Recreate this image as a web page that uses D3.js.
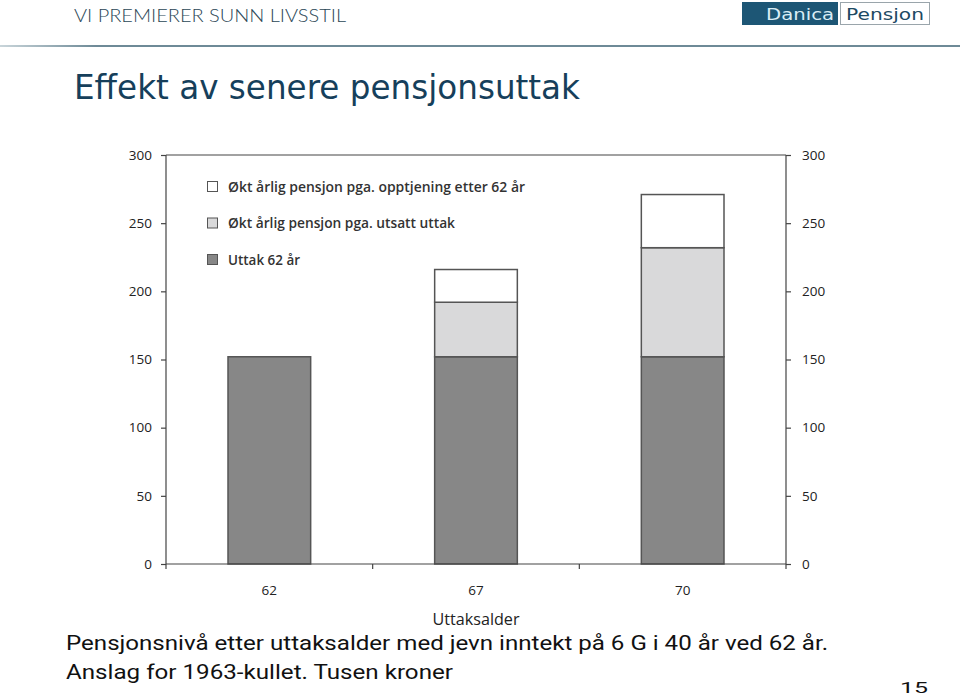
<!DOCTYPE html>
<html><head><meta charset="utf-8">
<script src="https://cdn.jsdelivr.net/npm/d3@7/dist/d3.min.js"></script>
<style>body{margin:0;background:#fff}svg{display:block}</style>
</head><body>
<script>
const categories = ["62", "67", "70"];
const seriesNames = ["Uttak 62 år", "Økt årlig pensjon pga. utsatt uttak", "Økt årlig pensjon pga. opptjening etter 62 år"];
const uttak62 = [152, 152, 152];
const utsattUttak = [0, 40, 80];
const opptjening = [0, 24, 39];
const yTicks = [0, 50, 100, 150, 200, 250, 300];
const legendOrder = [2, 1, 0];
const colors = ["#878787", "#d9d9da", "#ffffff"];

(function () {
const W = 960, H = 695;
const svg = d3.select("body").append("svg").attr("width", W).attr("height", H);

// header
svg.append("text").attr("x", 74).attr("y", 22).text("VI PREMIERER SUNN LIVSSTIL")
  .attr("font-family", "Lato, 'Open Sans', sans-serif").attr("font-size", 17).attr("font-weight", 300).attr("fill", "#2b4756")
  .attr("textLength", 272).attr("lengthAdjust", "spacingAndGlyphs");
const grad = svg.append("defs").append("linearGradient").attr("id", "hl");
grad.append("stop").attr("offset", "0%").attr("stop-color", "#c9d5da");
grad.append("stop").attr("offset", "10%").attr("stop-color", "#6e8a97");
grad.append("stop").attr("offset", "100%").attr("stop-color", "#6e8a97");
svg.append("rect").attr("x", 0).attr("y", 45).attr("width", W).attr("height", 2).attr("fill", "url(#hl)");

// logo
svg.append("rect").attr("x", 742).attr("y", 2).attr("width", 96).attr("height", 23).attr("fill", "#1d5675");
svg.append("text").attr("x", 800).attr("y", 20).attr("text-anchor", "middle").text("Danica")
  .attr("font-family", "'DejaVu Sans', sans-serif").attr("font-size", 15).attr("fill", "#d9edf6")
  .attr("textLength", 68).attr("lengthAdjust", "spacingAndGlyphs");
svg.append("rect").attr("x", 840.5).attr("y", 2.5).attr("width", 89).attr("height", 22).attr("fill", "#fff").attr("stroke", "#9aa5ab");
svg.append("text").attr("x", 885).attr("y", 20).attr("text-anchor", "middle").text("Pensjon")
  .attr("font-family", "'DejaVu Sans', sans-serif").attr("font-size", 15).attr("fill", "#1d4a63")
  .attr("textLength", 78).attr("lengthAdjust", "spacingAndGlyphs");

// title
svg.append("text").attr("x", 74).attr("y", 99).text("Effekt av senere pensjonsuttak")
  .attr("font-family", "'DejaVu Sans', sans-serif").attr("font-size", 34).attr("fill", "#163f5b")
  .attr("textLength", 506).attr("lengthAdjust", "spacingAndGlyphs");

// chart
const pL = 166, pR = 786, pT = 155, pB = 564;
const x = d3.scaleBand().domain(categories).range([pL, pR]).padding(0);
const y = d3.scaleLinear().domain([0, 300]).range([pB, pT]);
const data = categories.map((c, i) => ({cat: c, s0: uttak62[i], s1: utsattUttak[i], s2: opptjening[i]}));
const series = d3.stack().keys(["s0", "s1", "s2"])(data);

const fontChart = "'Open Sans', 'Noto Sans', sans-serif";
const g = svg.append("g");
const bw = x.bandwidth() * 0.4;
series.forEach((s, k) => {
  g.selectAll(null).data(s.filter(d => d[1] - d[0] > 0)).enter().append("rect")
    .attr("x", d => x(d.data.cat) + (x.bandwidth() - bw) / 2)
    .attr("y", d => y(d[1]))
    .attr("width", bw)
    .attr("height", d => y(d[0]) - y(d[1]))
    .attr("fill", colors[k]).attr("stroke", "#555").attr("stroke-width", 1.5);
});

g.append("line").attr("x1", pL).attr("x2", pR).attr("y1", pT).attr("y2", pT).attr("stroke", "#444").attr("stroke-width", 1.2);

const yl = d3.axisLeft(y).tickValues(yTicks).tickSize(5).tickPadding(9);
const yr = d3.axisRight(y).tickValues(yTicks).tickSize(5).tickPadding(11);
const xb = d3.axisBottom(x).tickSize(0).tickPadding(21);
function styleAxis(sel) {
  sel.select(".domain").attr("stroke", "#444").attr("stroke-width", 1.2);
  sel.selectAll(".tick line").attr("stroke", "#444").attr("stroke-width", 1.2);
  sel.selectAll("text").attr("font-family", fontChart).attr("font-size", 13.5).attr("font-weight", 500).attr("fill", "#222");
}
g.append("g").attr("transform", `translate(${pL},0)`).call(yl).call(styleAxis).call(s => s.select(".domain").attr("d", `M0,${pB}V${pT}`));
g.append("g").attr("transform", `translate(${pR},0)`).call(yr).call(styleAxis).call(s => s.select(".domain").attr("d", `M0,${pB}V${pT}`));
g.append("g").attr("transform", `translate(0,${pB})`).call(xb).call(styleAxis)
  .call(s => s.select(".domain").attr("d", `M${pL},0H${pR}`));
g.selectAll(null).data(x.domain().concat(["end"])).enter().append("line")
  .attr("x1", d => d === "end" ? pR : x(d)).attr("x2", d => d === "end" ? pR : x(d))
  .attr("y1", pB).attr("y2", pB + 5).attr("stroke", "#444").attr("stroke-width", 1.2);

svg.append("text").attr("x", (pL + pR) / 2).attr("y", 625).attr("text-anchor", "middle").text("Uttaksalder")
  .attr("font-family", fontChart).attr("font-size", 16.5).attr("font-weight", 500).attr("fill", "#222")
  .attr("textLength", 87).attr("lengthAdjust", "spacingAndGlyphs");

// legend
const legW = [297, 227, 72];
const leg = svg.append("g");
legendOrder.forEach((k, i) => {
  const yy = 181 + i * 36.5;
  leg.append("rect").attr("x", 207.5).attr("y", yy + 0.5).attr("width", 10).attr("height", 10)
    .attr("fill", colors[k]).attr("stroke", "#555").attr("stroke-width", 1);
  leg.append("text").attr("x", 228).attr("y", yy + 10.5).text(seriesNames[k])
    .attr("font-family", fontChart).attr("font-size", 14).attr("font-weight", 600).attr("fill", "#333")
    .attr("textLength", legW[i]).attr("lengthAdjust", "spacingAndGlyphs");
});

// caption
const capFont = "'Roboto', 'Liberation Sans', sans-serif";
svg.append("text").attr("x", 66).attr("y", 650).text("Pensjonsnivå etter uttaksalder med jevn inntekt på 6 G i 40 år ved 62 år.")
  .attr("font-family", capFont).attr("font-size", 20).attr("fill", "#111")
  .attr("textLength", 762).attr("lengthAdjust", "spacingAndGlyphs");
svg.append("text").attr("x", 66).attr("y", 679).text("Anslag for 1963-kullet. Tusen kroner")
  .attr("font-family", capFont).attr("font-size", 20).attr("fill", "#111")
  .attr("textLength", 387).attr("lengthAdjust", "spacingAndGlyphs");
svg.append("text").attr("x", 900).attr("y", 693).text("15")
  .attr("font-family", capFont).attr("font-size", 14).attr("fill", "#111")
  .attr("textLength", 28).attr("lengthAdjust", "spacingAndGlyphs");
})();
</script>
</body></html>
